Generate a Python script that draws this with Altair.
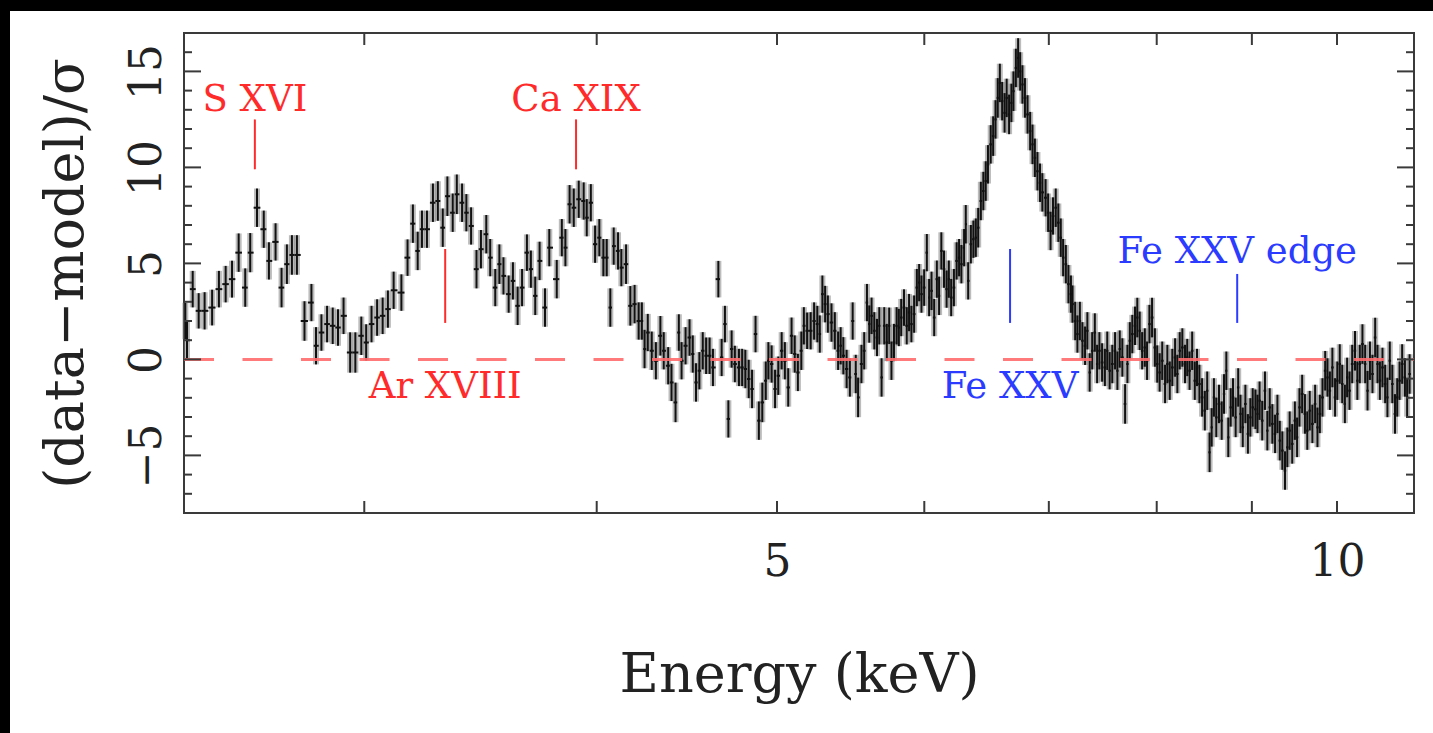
import altair as alt
import pandas as pd

# ---------------- data ----------------
energy = [
    2.404, 2.409, 2.426, 2.444, 2.462, 2.485, 2.506, 2.527, 2.547, 2.568,
    2.589, 2.605, 2.627, 2.649, 2.666, 2.688, 2.708, 2.726, 2.743, 2.760,
    2.786, 2.810, 2.826, 2.845, 2.865, 2.885, 2.904, 2.924, 2.948, 2.967,
    2.989, 3.007, 3.027, 3.048, 3.069, 3.089, 3.111, 3.141, 3.165, 3.186,
    3.205, 3.222, 3.242, 3.266, 3.286, 3.306, 3.325, 3.347, 3.364, 3.386,
    3.404, 3.424, 3.447, 3.466, 3.489, 3.506, 3.528, 3.546, 3.564, 3.587,
    3.606, 3.627, 3.647, 3.669, 3.687, 3.707, 3.727, 3.752, 3.772, 3.807,
    3.831, 3.848, 3.868, 3.888, 3.912, 3.936, 3.951, 3.971, 3.992, 4.013,
    4.033, 4.050, 4.068, 4.085, 4.107, 4.124, 4.148, 4.170, 4.192, 4.213,
    4.230, 4.244, 4.261, 4.282, 4.304, 4.328, 4.346, 4.370, 4.388, 4.410,
    4.428, 4.443, 4.465, 4.487, 4.505, 4.523, 4.542, 4.561, 4.580, 4.600,
    4.619, 4.650, 4.669, 4.688, 4.708, 4.727, 4.746, 4.770, 4.789, 4.808,
    4.828, 4.848, 4.869, 4.889, 4.910, 4.931, 4.947, 4.967, 4.988, 5.008,
    5.029, 5.049, 5.070, 5.091, 5.111, 5.131, 5.153, 5.169, 5.190, 5.213,
    5.235, 5.256, 5.272, 5.289, 5.307, 5.325, 5.349, 5.371, 5.393, 5.410,
    5.428, 5.450, 5.472, 5.491, 5.512, 5.528, 5.551, 5.570, 5.589, 5.605,
    5.621, 5.640, 5.659, 5.675, 5.691, 5.710, 5.728, 5.745, 5.761, 5.779,
    5.798, 5.814, 5.831, 5.851, 5.871, 5.888, 5.905, 5.925, 5.945, 5.962,
    5.979, 5.999, 6.019, 6.036, 6.054, 6.074, 6.094, 6.111, 6.128, 6.148,
    6.168, 6.185, 6.203, 6.224, 6.245, 6.264, 6.282, 6.303, 6.316, 6.335,
    6.356, 6.376, 6.395, 6.414, 6.435, 6.455, 6.474, 6.492, 6.514, 6.534,
    6.553, 6.571, 6.588, 6.607, 6.627, 6.644, 6.664, 6.683, 6.700, 6.720,
    6.739, 6.756, 6.775, 6.796, 6.818, 6.840, 6.860, 6.880, 6.902, 6.924,
    6.944, 6.972, 6.994, 7.015, 7.036, 7.060, 7.083, 7.104, 7.125, 7.149,
    7.172, 7.194, 7.208, 7.232, 7.252, 7.274, 7.297, 7.321, 7.342, 7.363,
    7.386, 7.410, 7.431, 7.452, 7.477, 7.503, 7.525, 7.547, 7.572, 7.598,
    7.620, 7.642, 7.667, 7.693, 7.715, 7.738, 7.762, 7.788, 7.810, 7.833,
    7.857, 7.883, 7.905, 7.928, 7.954, 7.982, 8.005, 8.029, 8.055, 8.083,
    8.106, 8.130, 8.156, 8.184, 8.207, 8.231, 8.258, 8.285, 8.308, 8.332,
    8.359, 8.386, 8.409, 8.434, 8.462, 8.491, 8.516, 8.541, 8.563, 8.587,
    8.612, 8.641, 8.670, 8.695, 8.720, 8.741, 8.767, 8.792, 8.821, 8.849,
    8.874, 8.899, 8.928, 8.956, 8.983, 9.009, 9.040, 9.063, 9.086, 9.116,
    9.147, 9.174, 9.201, 9.231, 9.262, 9.289, 9.316, 9.346, 9.377, 9.404,
    9.431, 9.461, 9.492, 9.518, 9.546, 9.578, 9.611, 9.639, 9.668, 9.700,
    9.733, 9.761, 9.790, 9.822, 9.855, 9.883, 9.912, 9.943, 9.976, 10.004,
    10.034, 10.065, 10.098, 10.126, 10.156, 10.190, 10.225, 10.255, 10.286, 10.320,
    10.355, 10.385, 10.416, 10.449, 10.484, 10.514, 10.545, 10.579, 10.614, 10.644,
    10.675, 10.709, 10.744, 10.774, 10.805, 10.840, 10.877, 10.907, 10.940,
]

resid = [
    2.0, 1.0, 3.66, 2.53, 2.53, 2.7, 3.66, 3.92, 4.18, 5.56,
    3.74, 5.56, 7.9, 6.78, 5.13, 6.12, 3.74, 4.96, 5.44, 5.44,
    2.0, 2.96, 0.71, 1.4, 1.84, 1.75, 1.66, 2.27, 0.36, 0.36,
    1.23, 0.88, 1.84, 2.18, 2.27, 2.62, 3.6, 3.48, 5.3, 7.07,
    5.65, 6.78, 6.78, 8.16, 8.25, 6.86, 8.5, 7.64, 8.6, 8.16,
    7.64, 6.95, 4.7, 5.74, 6.52, 5.3, 3.74, 4.96, 4.35, 3.4,
    4.09, 2.79, 3.74, 5.56, 4.7, 3.31, 5.13, 2.7, 5.82, 4.18,
    6.34, 5.82, 8.08, 7.9, 8.34, 8.25, 7.38, 8.16, 6.0, 6.34,
    5.3, 5.3, 2.7, 5.9, 5.65, 4.78, 4.96, 2.79, 2.88, 2.0,
    2.0, 0.54, 1.4, 0.45, -0.07, 1.23, 0.45, -0.33, -1.2, -2.24,
    1.4, -0.07, 0.71, 1.14, 0.28, -1.2, -0.59, 0.45, 0.19, 0.19,
    -0.42, 4.18, 0.1, 1.84, -3.1, 0.54, -0.24, -0.42, -0.42, -0.5,
    -1.02, -1.54, 1.32, -3.19, -2.24, -1.11, -0.07, -0.24, -1.54, -0.85,
    0.45, -0.07, -1.46, 1.23, 0.28, -0.68, 0.45, 1.75, 1.49, 1.49,
    2.0, 1.84, 1.32, 3.4, 2.88, 2.36, 1.92, 1.49, 0.45, 0.71,
    0.19, -0.5, -0.94, 2.0, -0.76, -1.98, -0.24, 0.45, 2.96, 1.84,
    2.27, 1.49, 1.14, 1.75, -0.94, 1.75, 0.88, 1.75, -0.07, 0.88,
    1.75, 1.66, 2.18, 2.7, 1.75, 2.44, 1.84, 2.36, 3.74, 4.0,
    3.4, 3.74, 5.56, 3.22, 3.57, 2.18, 4.18, 3.31, 5.65, 4.7,
    3.66, 4.18, 3.22, 3.74, 5.13, 5.3, 4.96, 5.82, 7.04, 4.09,
    6.0, 6.26, 6.34, 6.86, 8.25, 8.77, 9.29, 10.16, 11.2, 11.63,
    12.5, 13.62, 14.4, 13.45, 12.84, 13.62, 12.76, 13.36, 13.97, 15.18,
    15.7, 15.0, 14.32, 13.62, 12.76, 11.89, 11.2, 10.5, 9.8, 9.2,
    8.7, 8.42, 7.64, 6.69, 7.47, 7.9, 7.12, 6.34, 5.3, 4.96,
    3.92, 3.4, 2.88, 2.0, 1.32, 2.0, 0.97, 0.71, 1.49, -0.68,
    0.45, 1.4, -0.24, 0.45, -0.16, -0.42, 0.45, -0.59, -0.24, 0.45,
    -0.59, 0.54, 0.1, -2.32, -0.24, 0.97, 1.32, 1.75, 2.18, 1.49,
    0.45, 0.62, -0.07, 1.84, 2.18, 0.62, -0.24, -0.68, -0.07, -1.28,
    -0.24, -1.11, -0.42, 0.1, -0.76, 0.45, 0.62, -0.24, 0.1, -0.59,
    0.45, -1.11, -0.42, -1.28, -1.98, -2.67, -1.63, -4.84, -3.54, -1.98,
    -3.02, -2.32, -3.19, -1.8, -0.59, -4.06, -2.5, -1.98, -3.02, -1.46,
    -2.84, -3.54, -2.32, -3.88, -3.02, -2.5, -2.6, -2.84, -2.15, -3.19,
    -1.63, -3.71, -2.5, -3.36, -3.88, -2.84, -4.23, -4.75, -5.79, -4.58,
    -3.71, -4.4, -3.19, -4.06, -2.5, -1.8, -2.84, -3.71, -2.67, -3.36,
    -2.32, -3.54, -2.84, -1.98, -0.59, -0.94, -1.63, -0.42, -1.98, -1.11,
    -0.24, -1.28, -2.32, -0.94, -1.63, -0.24, 0.45, -1.11, -0.24, 0.8,
    -0.24, -1.63, -0.07, -0.76, 1.14, -0.24, -1.11, -0.42, -1.28, -1.98,
    -0.07, -1.28, -2.84, -1.98, -1.11, -0.24, -0.94, -1.98, -0.76,
]

sigma = [
    0.95, 0.95, 0.95, 0.92, 0.97, 0.93, 0.95, 0.95, 0.96, 1.0,
    1.0, 1.02, 1.0, 0.97, 0.97, 0.97, 1.03, 1.03, 1.03, 1.03,
    1.03, 0.97, 0.97, 0.95, 0.95, 0.95, 0.95, 0.95, 1.05, 1.05,
    1.0, 0.95, 0.95, 0.95, 0.95, 0.97, 0.97, 0.95, 0.95, 1.0,
    1.0, 0.97, 0.97, 1.0, 1.03, 1.0, 1.03, 1.0, 1.03, 1.0,
    0.97, 0.97, 1.0, 1.0, 1.0, 0.97, 0.97, 1.03, 0.97, 0.97,
    0.97, 1.0, 0.97, 0.95, 0.97, 1.0, 1.0, 1.0, 0.97, 1.0,
    0.97, 0.97, 1.0, 1.0, 0.97, 0.97, 0.97, 0.97, 0.97, 0.97,
    0.97, 0.97, 1.0, 0.97, 0.97, 0.97, 1.03, 1.03, 1.0, 0.97,
    0.97, 1.0, 0.97, 1.0, 0.97, 1.03, 0.97, 0.97, 0.97, 1.03,
    0.95, 0.97, 0.97, 0.95, 0.97, 1.0, 0.97, 0.97, 0.95, 0.95,
    0.97, 0.95, 0.97, 0.95, 0.97, 0.97, 0.95, 0.97, 0.97, 1.0,
    1.0, 1.0, 0.95, 1.0, 1.03, 1.0, 0.97, 0.97, 1.0, 1.0,
    0.97, 0.97, 1.0, 0.95, 0.97, 0.97, 1.0, 0.97, 0.95, 0.97,
    0.97, 0.95, 0.97, 0.97, 0.95, 0.97, 1.0, 0.97, 1.0, 0.97,
    0.97, 1.0, 1.0, 0.97, 1.0, 1.03, 1.0, 0.97, 0.97, 0.97,
    0.95, 0.97, 0.97, 0.97, 1.0, 0.97, 0.97, 0.95, 1.0, 0.97,
    0.97, 0.97, 0.97, 0.95, 0.97, 0.97, 0.95, 0.97, 0.97, 0.97,
    0.97, 0.95, 0.97, 0.97, 1.0, 0.97, 0.97, 1.0, 0.97, 0.97,
    0.97, 0.97, 0.97, 0.97, 0.97, 0.97, 1.0, 0.97, 1.0, 0.97,
    1.0, 0.97, 1.0, 1.03, 1.0, 1.0, 1.03, 1.0, 1.0, 1.03,
    1.0, 1.03, 1.0, 1.0, 1.03, 1.0, 1.03, 1.0, 1.03, 1.0,
    1.03, 1.0, 1.0, 1.03, 1.0, 1.0, 1.03, 1.0, 1.0, 1.0,
    1.0, 0.97, 1.0, 1.0, 0.97, 1.0, 1.0, 1.0, 0.97, 1.0,
    1.0, 0.97, 0.97, 1.0, 0.97, 1.0, 0.97, 1.0, 0.97, 1.0,
    0.97, 1.0, 1.0, 0.97, 1.0, 0.97, 1.0, 0.97, 1.0, 0.97,
    1.0, 0.97, 1.0, 1.03, 1.0, 0.97, 1.0, 1.0, 1.03, 1.0,
    0.97, 1.0, 1.0, 1.0, 1.03, 1.0, 0.97, 1.0, 1.0, 1.0,
    1.0, 1.0, 0.97, 1.0, 1.0, 0.97, 1.0, 1.0, 0.97, 1.0,
    1.0, 1.0, 0.97, 1.0, 1.0, 1.03, 1.0, 1.03, 1.0, 1.0,
    1.03, 1.0, 1.0, 1.03, 1.0, 1.03, 1.0, 1.0, 1.03, 1.0,
    1.0, 1.03, 1.0, 1.03, 1.0, 1.0, 1.03, 1.0, 1.0, 1.03,
    1.0, 1.03, 1.0, 1.03, 1.0, 1.0, 1.03, 1.0, 1.0, 1.03,
    1.0, 1.03, 1.0, 1.03, 1.0, 1.0, 1.03, 1.0, 1.03, 1.0,
    1.0, 1.03, 1.0, 1.0, 1.03, 1.0, 1.0, 1.03, 1.0, 1.0,
    1.03, 1.0, 1.0, 1.03, 1.0, 1.0, 1.03, 1.0, 1.0, 1.03,
    1.0, 1.03, 1.0, 1.0, 1.03, 1.0, 1.0, 1.03, 1.0, 1.03,
    1.0, 1.0, 1.03, 1.0, 1.0, 1.03, 1.0, 1.0, 1.03,
]

# emission-line markers
line_names = ["S XVI", "Ar XVIII", "Ca XIX", "Fe XXV", "Fe XXV edge"]
line_energy = [2.62, 3.316, 3.899, 6.672, 8.838]
line_lo = [9.9, 1.9, 9.9, 1.9, 1.9]
line_hi = [12.5, 5.75, 12.5, 5.75, 4.45]
label_y = [12.94, -1.99, 12.94, -1.99, 5.03]
line_color = ["#ff2b2b", "#ff2b2b", "#ff2b2b", "#2b3bff", "#2b3bff"]

x_tick_values = [3, 4, 5, 6, 7, 8, 9, 10]
x_label_values = [5, 10]
y_major = [-5, 0, 5, 10, 15]
y_minor = [-7, -6, -4, -3, -2, -1, 1, 2, 3, 4, 6, 7, 8, 9, 11, 12, 13, 14, 16]
x_domain = [2.4, 11.0]
y_domain = [-8, 17]

# ---------------- layout ----------------
W, H = 1230, 480
PAD = {"left": 184, "top": 33, "right": 19, "bottom": 220}
FONT = "DejaVu Serif"
INK = "#222222"
FRAME = "#3a3a3a"

df = pd.DataFrame({"E": energy, "r": resid, "s": sigma})
df["lo"] = df["r"] - df["s"]
df["hi"] = df["r"] + df["s"]
mid = (df["E"] + df["E"].shift(-1)) / 2
df["ehi"] = mid.fillna(df["E"] + (df["E"].iloc[-1] - df["E"].iloc[-2]) / 2)
df["elo"] = ((df["E"].shift(1) + df["E"]) / 2).fillna(df["E"] - (df["E"].iloc[1] - df["E"].iloc[0]) / 2)

lines = pd.DataFrame({"name": line_names, "E": line_energy, "lo": line_lo,
                      "hi": line_hi, "ly": label_y, "color": line_color})

xs = alt.Scale(type="log", domain=x_domain, nice=False)
ys = alt.Scale(domain=y_domain, nice=False, zero=False)

x_axis = alt.Axis(values=x_label_values, format="d", ticks=False, domain=False, grid=False,
                  labelFont=FONT, labelFontSize=44, labelColor=INK, labelPadding=27,
                  title="Energy (keV)", titleFont=FONT, titleFontSize=54,
                  titleFontWeight="normal", titleColor=INK, titlePadding=64)
y_axis = alt.Axis(values=y_major, ticks=False, domain=False, grid=False,
                  labelAngle=-90, labelAlign="center", labelBaseline="bottom",
                  labelFont=FONT, labelFontSize=44, labelColor=INK, labelPadding=15,
                  title="(data\u2212model)/\u03c3", titleFont=FONT, titleFontSize=54,
                  titleFontWeight="normal", titleColor=INK, titlePadding=32)


def X(field):
    return alt.X(field, scale=xs, axis=x_axis)


def Y(field):
    return alt.Y(field, scale=ys, axis=y_axis)


one = pd.DataFrame({"a": [0]})

# black scan borders (top and left)
border_top = alt.Chart(one).mark_rect(color="black").encode(
    x=alt.value(-PAD["left"]), x2=alt.value(W + PAD["right"]),
    y=alt.value(-PAD["top"]), y2=alt.value(-PAD["top"] + 11))
border_left = alt.Chart(one).mark_rect(color="black").encode(
    x=alt.value(-PAD["left"]), x2=alt.value(-PAD["left"] + 10),
    y=alt.value(-PAD["top"]), y2=alt.value(H + PAD["bottom"]))

# error bars (halo + core)
halo = alt.Chart(df).mark_rule(color="#7a7a7a", strokeWidth=6, opacity=0.5).encode(
    x=X("E:Q"), y=Y("lo:Q"), y2="hi:Q")
core = alt.Chart(df).mark_rule(color="#111111", strokeWidth=2).encode(
    x=X("E:Q"), y=Y("lo:Q"), y2="hi:Q")
hbar = alt.Chart(df).mark_rule(color="#111111", strokeWidth=2).encode(
    x=X("elo:Q"), x2="ehi:Q", y=Y("r:Q"))

# zero line
zero = alt.Chart(pd.DataFrame({"y": [0]})).mark_rule(
    color="#ff6b6b", strokeWidth=3, strokeDash=[30, 28.5], opacity=0.9).encode(
    y=Y("y:Q"), x=alt.value(0), x2=alt.value(W))

# line markers and labels
markers = alt.Chart(lines).mark_rule(strokeWidth=2).encode(
    x=X("E:Q"), y=Y("lo:Q"), y2="hi:Q",
    color=alt.Color("color:N", scale=None))
labels = alt.Chart(lines).mark_text(font=FONT, fontSize=37, align="center",
                                    baseline="alphabetic").encode(
    x=X("E:Q"), y=Y("ly:Q"), text="name:N",
    color=alt.Color("color:N", scale=None))

# inward ticks on all four sides
ymaj = pd.DataFrame({"v": y_major})
ymin = pd.DataFrame({"v": y_minor})
xt = pd.DataFrame({"v": x_tick_values})


def ytick(data, x0, x1):
    return alt.Chart(data).mark_rule(color=FRAME, strokeWidth=2).encode(
        y=Y("v:Q"), x=alt.value(x0), x2=alt.value(x1))


def xtick(y0, y1):
    return alt.Chart(xt).mark_rule(color=FRAME, strokeWidth=2).encode(
        x=X("v:Q"), y=alt.value(y0), y2=alt.value(y1))


ticks = [
    ytick(ymaj, 0, 17), ytick(ymin, 0, 8),
    ytick(ymaj, W - 17, W), ytick(ymin, W - 8, W),
    xtick(0, 12), xtick(H - 12, H),
]

chart = alt.layer(
    border_top, border_left, halo, core, hbar, zero, markers, labels, *ticks
).properties(
    width=W, height=H,
    autosize=alt.AutoSizeParams(type="none"),
    padding=PAD,
    background="white",
).configure_view(stroke=FRAME, strokeWidth=2)

chart.save("out.html", embed_options={"renderer": "svg", "actions": False})
